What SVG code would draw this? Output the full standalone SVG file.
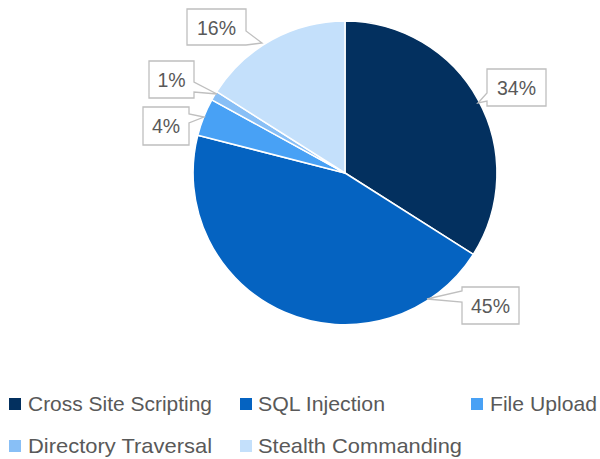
<svg xmlns="http://www.w3.org/2000/svg" width="600" height="459" viewBox="0 0 600 459">
<style>
.slice{stroke:#fff;stroke-width:1.5;stroke-linejoin:round}
.callout{fill:#fff;stroke:#BFBFBF;stroke-width:1.3}
.lbl{font-family:"Liberation Sans",Arial,sans-serif;font-size:19.5px;fill:#595959;text-anchor:middle}
.leg{font-family:"Liberation Sans",Arial,sans-serif;font-size:21px;fill:#595959}
</style>
<rect width="600" height="459" fill="#fff"/>
<g id="pie">
<g id="xss"><path class="slice" fill="#03305F" d="M345,173 L345,21 A152,152 0 0 1 473.3,254.4 Z"/></g>
<g id="sql"><path class="slice" fill="#0563C1" d="M345,173 L473.3,254.4 A152,152 0 0 1 197.8,135.2 Z"/></g>
<g id="upload"><path class="slice" fill="#48A1F5" d="M345,173 L197.8,135.2 A152,152 0 0 1 211.8,99.8 Z"/></g>
<g id="dir"><path class="slice" fill="#88BFF6" d="M345,173 L211.8,99.8 A152,152 0 0 1 216.7,91.6 Z"/></g>
<g id="stealth"><path class="slice" fill="#C4E0FB" d="M345,173 L216.7,91.6 A152,152 0 0 1 345,21 Z"/></g>
</g>
<g id="labels">
<g id="lbl-16"><path class="callout" d="M187,9 H246 V31 L262,43 L246,45 H187 Z"/><text class="lbl" x="216.5" y="35">16%</text></g>
<g id="lbl-1"><path class="callout" d="M149,61 H194 V82 L217,94 L194,92 V98 H149 Z"/><text class="lbl" x="171.5" y="86.5">1%</text></g>
<g id="lbl-4"><path class="callout" d="M143,107 H189 V114 L204,117 L189,123 V145 H143 Z"/><text class="lbl" x="166" y="133">4%</text></g>
<g id="lbl-34"><path class="callout" d="M487,69 H546 V106 H487 V101 L478,103 L487,93 Z"/><text class="lbl" x="516.5" y="94.5">34%</text></g>
<g id="lbl-45"><path class="callout" d="M462,287 H519 V324 H462 V302 L427,299 L462,291 Z"/><text class="lbl" x="490.5" y="312.5">45%</text></g>
</g>
<g id="legend">
<rect x="9" y="398" width="12" height="12" fill="#03305F"/><text class="leg" x="28" y="411" textLength="184" lengthAdjust="spacingAndGlyphs">Cross Site Scripting</text>
<rect x="240" y="398" width="12" height="12" fill="#0563C1"/><text class="leg" x="258" y="411" textLength="127" lengthAdjust="spacingAndGlyphs">SQL Injection</text>
<rect x="471" y="398" width="12" height="12" fill="#48A1F5"/><text class="leg" x="490" y="411" textLength="107" lengthAdjust="spacingAndGlyphs">File Upload</text>
<rect x="9" y="440" width="12" height="12" fill="#88BFF6"/><text class="leg" x="28" y="453" textLength="184" lengthAdjust="spacingAndGlyphs">Directory Traversal</text>
<rect x="240" y="440" width="12" height="12" fill="#C4E0FB"/><text class="leg" x="258" y="453" textLength="204" lengthAdjust="spacingAndGlyphs">Stealth Commanding</text>
</g>
</svg>
